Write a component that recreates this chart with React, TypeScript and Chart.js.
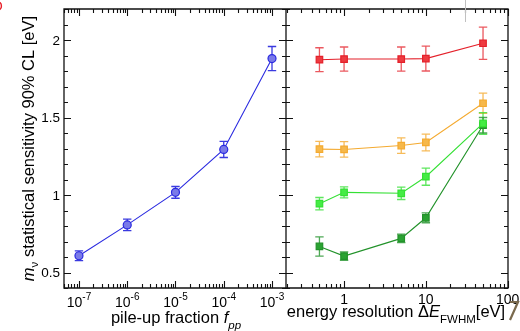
import React, { useEffect, useRef } from "react";
import { Chart, registerables } from "chart.js";

Chart.register(...registerables);

// ---------- data ----------
const pileupFractions = [1e-7, 1e-6, 1e-5, 1e-4, 1e-3];
const pileupSensitivity = [0.608, 0.807, 1.017, 1.294, 1.88];
const pileupError = [0.031, 0.037, 0.038, 0.052, 0.078];

const energyResolutions = [0.5, 1, 5, 10, 50];
const sensRed = [1.873, 1.877, 1.877, 1.88, 1.979];
const errRed = [0.077, 0.078, 0.078, 0.08, 0.104];
const sensOrange = [1.296, 1.294, 1.319, 1.339, 1.592];
const errOrange = [0.05, 0.05, 0.05, 0.054, 0.065];
const sensLightGreen = [0.944, 1.017, 1.011, 1.118, 1.462];
const errLightGreen = [0.04, 0.035, 0.04, 0.055, 0.07];
const sensDarkGreen = [0.668, 0.606, 0.72, 0.853, 1.45];
const errDarkGreen = [0.062, 0.027, 0.027, 0.032, 0.05];

const yMajorTicks = [0.5, 1, 1.5, 2];
const yTickLabels = ["0.5", "1", "1.5", "2"];
const pileupTickExponents = [-7, -6, -5, -4, -3];
const energyTicks = [1, 10, 100];
const energyTickLabels = ["1", "10", "100"];

const FONT = "'Liberation Sans', Arial, Helvetica, sans-serif";

function mkSeries(xs: number[], ys: number[]) {
  return xs.map((x, i) => ({ x, y: ys[i] }));
}

const errorBarPlugin = {
  id: "errorBars",
  beforeDatasetsDraw(chart: any) {
    const ctx = chart.ctx;
    const yS = chart.scales.y;
    chart.data.datasets.forEach((ds: any) => {
      const xS = chart.scales[ds.xAxisID];
      ctx.save();
      ctx.strokeStyle = ds.errColor;
      ctx.lineWidth = 1.3;
      ds.data.forEach((p: any, i: number) => {
        const e = ds.errors[i];
        const px = xS.getPixelForValue(p.x);
        const y1 = yS.getPixelForValue(p.y + e);
        const y2 = yS.getPixelForValue(p.y - e);
        ctx.beginPath();
        ctx.moveTo(px, y1);
        ctx.lineTo(px, y2);
        ctx.moveTo(px - 4.2, y1);
        ctx.lineTo(px + 4.2, y1);
        ctx.moveTo(px - 4.2, y2);
        ctx.lineTo(px + 4.2, y2);
        ctx.stroke();
      });
      ctx.restore();
    });
  },
};

function drawRich(ctx: CanvasRenderingContext2D, parts: { t: string; fs: number; it?: boolean; dy?: number }[], cx: number, baseY: number) {
  const widths = parts.map((p) => {
    ctx.font = `${p.it ? "italic " : ""}${p.fs}px ${FONT}`;
    return ctx.measureText(p.t).width;
  });
  const total = widths.reduce((a, b) => a + b, 0);
  let x = cx - total / 2;
  ctx.textAlign = "left";
  ctx.textBaseline = "alphabetic";
  parts.forEach((p, i) => {
    ctx.font = `${p.it ? "italic " : ""}${p.fs}px ${FONT}`;
    ctx.fillText(p.t, x, baseY + (p.dy || 0));
    x += widths[i];
  });
}

function logMinorValues(min: number, max: number) {
  const vals: { v: number; major: boolean }[] = [];
  const d0 = Math.floor(Math.log10(min)) - 1;
  const d1 = Math.ceil(Math.log10(max)) + 1;
  for (let d = d0; d <= d1; d++) {
    for (let k = 1; k <= 9; k++) {
      const v = k * Math.pow(10, d);
      if (v >= min * 1.01 && v <= max * 0.995) vals.push({ v, major: k === 1 });
    }
  }
  return vals;
}

const framePlugin = {
  id: "frameTicks",
  afterDraw(chart: any) {
    const ctx = chart.ctx;
    const yS = chart.scales.y;
    const xL = chart.scales.xL;
    const xR = chart.scales.xR;
    const top = chart.chartArea.top;
    const bottom = chart.chartArea.bottom;
    const left = xL.left;
    const mid = xL.right;
    const right = xR.right;
    ctx.save();
    ctx.strokeStyle = "#111";
    ctx.lineWidth = 1.3;
    ctx.beginPath();
    ctx.rect(left, top, right - left, bottom - top);
    ctx.moveTo(mid, top);
    ctx.lineTo(mid, bottom);
    ctx.stroke();

    ctx.lineWidth = 1.1;
    ctx.beginPath();
    // x ticks
    [xL, xR].forEach((s: any) => {
      logMinorValues(s.min, s.max).forEach(({ v, major }) => {
        const px = Math.round(s.getPixelForValue(v)) + 0.5;
        const len = major ? 7 : 4;
        ctx.moveTo(px, bottom);
        ctx.lineTo(px, bottom - len);
        ctx.moveTo(px, top);
        ctx.lineTo(px, top + len);
      });
    });
    // y ticks
    for (let i = 4; i <= 22; i++) {
      const v = i / 10;
      const py = Math.round(yS.getPixelForValue(v)) + 0.5;
      const len = i % 5 === 0 ? 7 : 4;
      ctx.moveTo(left, py);
      ctx.lineTo(left + len, py);
      ctx.moveTo(mid - len, py);
      ctx.lineTo(mid + len, py);
      ctx.moveTo(right, py);
      ctx.lineTo(right - len, py);
    }
    ctx.stroke();

    // tick labels
    ctx.fillStyle = "#000";
    ctx.font = `13.5px ${FONT}`;
    ctx.textAlign = "right";
    ctx.textBaseline = "middle";
    yMajorTicks.forEach((v, i) => {
      ctx.fillText(yTickLabels[i], left - 4, yS.getPixelForValue(v) + 1);
    });
    pileupTickExponents.forEach((e) => {
      const px = xL.getPixelForValue(Math.pow(10, e));
      drawRich(ctx, [{ t: "10", fs: 14 }, { t: String(e), fs: 10, dy: -6.5 }], px, 306.5);
    });
    energyTicks.forEach((v, i) => {
      const px = xR.getPixelForValue(v);
      ctx.font = `14px ${FONT}`;
      ctx.textAlign = "center";
      ctx.textBaseline = "alphabetic";
      ctx.fillText(energyTickLabels[i], px, 304);
    });

    // axis titles
    drawRich(
      ctx,
      [
        { t: "pile-up fraction ", fs: 16.5 },
        { t: "f", fs: 16.5, it: true },
        { t: "pp", fs: 11.5, it: true, dy: 6 },
      ],
      (left + mid) / 2 + 1,
      323
    );
    drawRich(
      ctx,
      [
        { t: "energy resolution \u0394", fs: 16.5 },
        { t: "E", fs: 16.5, it: true },
        { t: "FWHM", fs: 11.5, dy: 6 },
        { t: "[eV]", fs: 16.5 },
      ],
      (mid + right) / 2 - 1,
      317
    );
    ctx.save();
    ctx.translate(34, (top + bottom) / 2);
    ctx.rotate(-Math.PI / 2);
    drawRich(
      ctx,
      [
        { t: "m", fs: 16.5, it: true },
        { t: "\u03bd", fs: 11.5, dy: 4 },
        { t: " statistical sensitivity 90% CL [eV]", fs: 16.5 },
      ],
      0,
      0
    );
    ctx.restore();

    // crop artifacts from the original figure
    ctx.fillStyle = "#e8202a";
    ctx.font = `15px ${FONT}`;
    ctx.textAlign = "left";
    ctx.textBaseline = "alphabetic";
    ctx.fillText("D", -8, 11);
    ctx.strokeStyle = "#c0c0c0";
    ctx.lineWidth = 1;
    ctx.beginPath();
    ctx.moveTo(465.5, 0);
    ctx.lineTo(465.5, 22);
    ctx.stroke();
    ctx.strokeStyle = "#7a6a4e";
    ctx.lineWidth = 2.2;
    ctx.beginPath();
    ctx.moveTo(510, 302);
    ctx.lineTo(518, 302);
    ctx.lineTo(510, 320);
    ctx.stroke();
    ctx.restore();
  },
};

export default function App() {
  const ref = useRef<HTMLCanvasElement | null>(null);
  useEffect(() => {
    if (!ref.current) return;
    const line = (label: string, xs: number[], ys: number[], errs: number[], axis: string, color: string, fill: string, errColor: string, style: string, r: number) => ({
      label,
      data: mkSeries(xs, ys),
      errors: errs,
      errColor,
      xAxisID: axis,
      yAxisID: "y",
      borderColor: color,
      backgroundColor: fill,
      pointBackgroundColor: fill,
      pointBorderColor: color,
      pointBorderWidth: 1.2,
      pointStyle: style,
      pointRadius: r,
      borderWidth: 1.1,
      tension: 0,
      fill: false,
    });
    const chart = new Chart(ref.current, {
      type: "line",
      data: {
        datasets: [
          line("pile-up", pileupFractions, pileupSensitivity, pileupError, "xL", "#2a2ae0", "#7a7ae8", "#3a3ae0", "circle", 4),
          line("red", energyResolutions, sensRed, errRed, "xR", "#e4202a", "#ee3a40", "rgba(228,32,42,0.75)", "rect", 4.6),
          line("orange", energyResolutions, sensOrange, errOrange, "xR", "#f4aa30", "#f6b84a", "rgba(244,170,48,0.8)", "rect", 4.6),
          line("lightgreen", energyResolutions, sensLightGreen, errLightGreen, "xR", "#34e034", "#44ec44", "rgba(52,224,52,0.8)", "rect", 4.6),
          line("darkgreen", energyResolutions, sensDarkGreen, errDarkGreen, "xR", "#22922a", "#2aa232", "rgba(34,146,42,0.8)", "rect", 4.6),
        ] as any,
      },
      options: {
        animation: false,
        responsive: false,
        maintainAspectRatio: false,
        layout: { padding: { top: 9, right: 12, left: 0, bottom: 0 } },
        plugins: { legend: { display: false }, tooltip: { enabled: false } },
        scales: {
          xL: {
            type: "logarithmic",
            position: "bottom",
            stack: "x",
            stackWeight: 1,
            min: Math.pow(10, -7.31),
            max: Math.pow(10, -2.71),
            ticks: { display: false },
            grid: { display: false },
            border: { display: false },
            afterFit: (s: any) => {
              s.height = 43;
            },
          },
          xR: {
            type: "logarithmic",
            position: "bottom",
            stack: "x",
            stackWeight: 1,
            min: 0.195,
            max: 101,
            ticks: { display: false },
            grid: { display: false },
            border: { display: false },
            afterFit: (s: any) => {
              s.height = 43;
            },
          },
          y: {
            type: "linear",
            position: "left",
            min: 0.4,
            max: 2.2,
            ticks: { display: false },
            grid: { display: false },
            border: { display: false },
            afterFit: (s: any) => {
              s.width = 64;
            },
          },
        } as any,
      },
      plugins: [errorBarPlugin, framePlugin],
    });
    return () => chart.destroy();
  }, []);
  return (
    <div style={{ position: "fixed", left: 0, top: 0, width: 520, height: 331, background: "#fff" }}>
      <canvas ref={ref} width={520} height={331} style={{ width: 520, height: 331, display: "block" }} />
    </div>
  );
}
